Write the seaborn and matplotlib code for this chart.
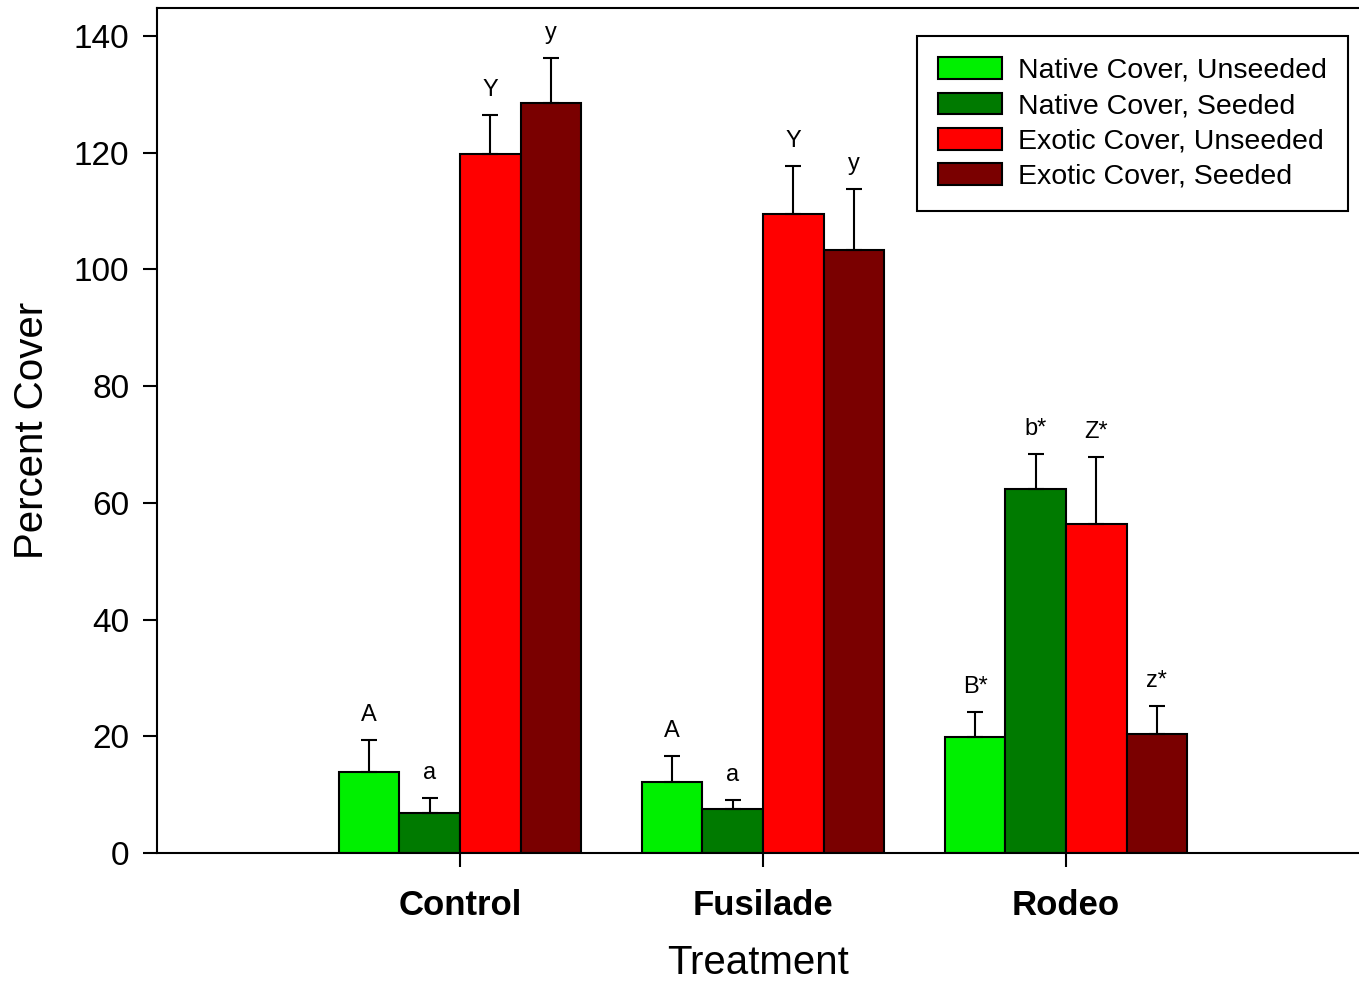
import seaborn as sns
import matplotlib.pyplot as plt
import pandas as pd
import numpy as np

# data
treatments = ["Control", "Fusilade", "Rodeo"]
groups = ["Native Cover, Unseeded", "Native Cover, Seeded",
          "Exotic Cover, Unseeded", "Exotic Cover, Seeded"]
native_unseeded = [13.9, 12.2, 19.8]
native_seeded = [6.9, 7.5, 62.3]
exotic_unseeded = [119.7, 109.5, 56.4]
exotic_seeded = [128.5, 103.4, 20.4]
native_unseeded_err = [5.4, 4.4, 4.3]
native_seeded_err = [2.5, 1.6, 6.0]
exotic_unseeded_err = [6.7, 8.3, 11.4]
exotic_seeded_err = [7.8, 10.3, 4.8]
letters_nu = ["A", "A", "B*"]
letters_ns = ["a", "a", "b*"]
letters_eu = ["Y", "Y", "Z*"]
letters_es = ["y", "y", "z*"]
colors = ["#00f000", "#007a00", "#ff0000", "#7a0000"]

values = [native_unseeded, native_seeded, exotic_unseeded, exotic_seeded]
errors = [native_unseeded_err, native_seeded_err, exotic_unseeded_err, exotic_seeded_err]
letters = [letters_nu, letters_ns, letters_eu, letters_es]

df = pd.DataFrame({
    "Treatment": np.tile(treatments, len(groups)),
    "Group": np.repeat(groups, len(treatments)),
    "Cover": np.concatenate(values),
})

sns.set_style("ticks")
plt.rcParams["font.family"] = ["Liberation Sans", "DejaVu Sans"]
plt.rcParams["text.color"] = "black"
plt.rcParams["axes.labelcolor"] = "black"
plt.rcParams["xtick.color"] = "black"
plt.rcParams["ytick.color"] = "black"

fig = plt.figure(figsize=(13.59, 9.82), dpi=100)
ax = fig.add_axes([0.1155, 0.1314, 0.8845, 0.8605])

sns.barplot(data=df, x="Treatment", y="Cover", hue="Group", order=treatments,
            hue_order=groups, palette=colors, width=0.8, gap=0,
            edgecolor="black", linewidth=1.5, saturation=1, errorbar=None, ax=ax)

# error bars (upper only) and significance letters
for cont, err, lab in zip(ax.containers, errors, letters):
    xs = [b.get_x() + b.get_width() / 2 for b in cont]
    hs = [b.get_height() for b in cont]
    ax.errorbar(xs, hs, yerr=[np.zeros(len(err)), err], fmt="none",
                ecolor="black", elinewidth=1.5, capsize=6, capthick=1.5, zorder=3)
    for x, h, e, t in zip(xs, hs, err, lab):
        ax.annotate(t, (x, h + e), xytext=(0, 18), textcoords="offset points",
                    ha="center", va="center", fontsize=17, color="black")

ax.set_xlim(-1, 2.967)
ax.set_ylim(0, 144.8)
ax.set_yticks(range(0, 141, 20))
ax.spines["right"].set_visible(False)
for s in ["left", "bottom", "top"]:
    ax.spines[s].set_linewidth(1.5)
    ax.spines[s].set_color("black")
ax.tick_params(axis="y", labelsize=24, length=10, width=1.5, pad=10, direction="out")
ax.tick_params(axis="x", labelsize=25, length=10, width=1.5, pad=16, direction="out")
for t in ax.get_xticklabels():
    t.set_fontweight("bold")
ax.set_xlabel("Treatment", fontsize=29, labelpad=16)
ax.set_ylabel("Percent Cover", fontsize=29, labelpad=16)

handles, labels = ax.get_legend_handles_labels()
leg = ax.legend(handles, labels, loc="upper right", bbox_to_anchor=(0.991, 0.967),
                borderaxespad=0, fontsize=20.5, frameon=True, fancybox=False,
                edgecolor="black", framealpha=1, handlelength=2.25, handleheight=0.8,
                labelspacing=0.3, borderpad=0.75, handletextpad=0.55)
leg.get_frame().set_linewidth(1.5)

fig.savefig("out.png", dpi=100)
